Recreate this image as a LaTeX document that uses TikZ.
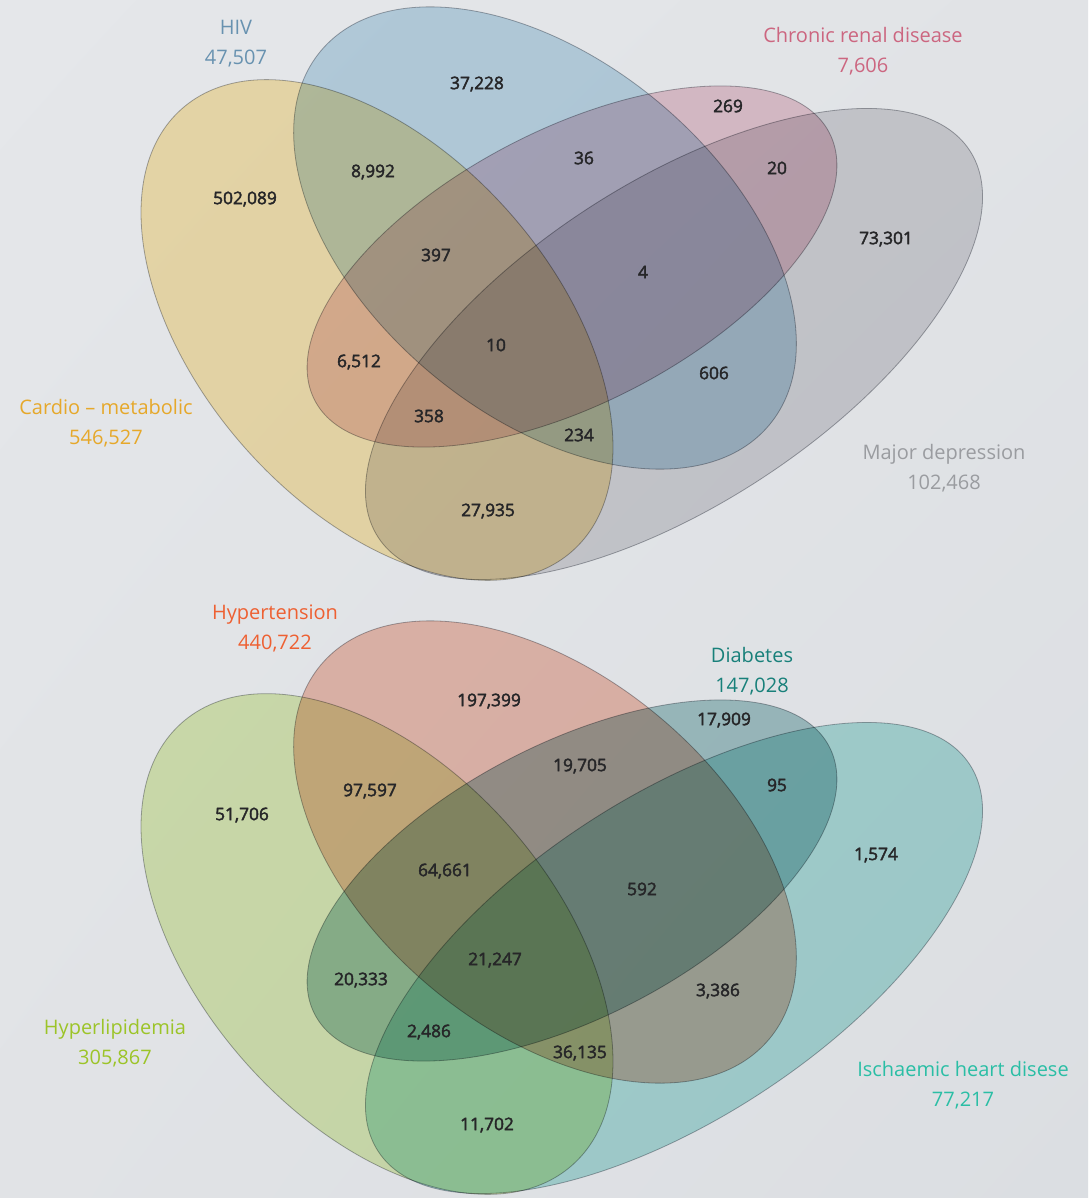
\documentclass[tikz,border=0pt]{standalone}
\usepackage{fontspec}
\setmainfont{Open Sans}
\newfontfamily\numfam[FakeBold=2.4]{Open Sans}
\definecolor{bgtopleft}{RGB}{229,231,234}
\definecolor{bgmid}{RGB}{225,227,230}
\definecolor{bgbottomright}{RGB}{219,222,226}
\definecolor{edgegray}{RGB}{172,174,179}
\definecolor{numdark}{RGB}{38,38,40}
\definecolor{cardiofill}{RGB}{254,234,181}
\definecolor{hivfill}{RGB}{197,222,236}
\definecolor{renalfill}{RGB}{237,205,215}
\definecolor{depressfill}{RGB}{219,218,221}
\definecolor{lipidfill}{RGB}{226,241,186}
\definecolor{tensionfill}{RGB}{245,197,182}
\definecolor{diabfill}{RGB}{172,205,206}
\definecolor{heartfill}{RGB}{181,228,224}
\definecolor{cardiotext}{RGB}{230,168,42}
\definecolor{hivtext}{RGB}{104,146,176}
\definecolor{renaltext}{RGB}{204,102,128}
\definecolor{depresstext}{RGB}{154,156,160}
\definecolor{tensiontext}{RGB}{238,96,50}
\definecolor{diabtext}{RGB}{24,128,122}
\definecolor{lipidtext}{RGB}{156,196,40}
\definecolor{hearttext}{RGB}{42,190,165}
\usetikzlibrary{shadings}

\begin{document}
\begin{tikzpicture}[x=1pt, y=-1pt,
    venn/.style={blend mode=multiply, draw=edgegray, line width=0.8pt},
    setlabel/.style={align=center, font=\fontsize{20}{30}\selectfont},
    count/.style={font=\numfam\fontsize{17.3}{20}\selectfont, text=numdark}]

\shade[upper left=bgtopleft, upper right=bgmid, lower left=bgmid,
       lower right=bgbottomright] (0,0) rectangle (1088,1198);
\useasboundingbox (0,0) rectangle (1088,1198);

% upper diagram
\filldraw[venn, fill=cardiofill, shift={(377,330)}, rotate=-48.6] (0,0) ellipse [x radius=295, y radius=177];
\filldraw[venn, fill=hivfill, shift={(545,238)}, rotate=-39.8] (0,0) ellipse [x radius=292, y radius=177];
\filldraw[venn, fill=renalfill, shift={(572,266.5)}, rotate=27.5] (0,0) ellipse [x radius=290, y radius=136.6];
\filldraw[venn, fill=depressfill, shift={(674,344)}, rotate=33.2] (0,0) ellipse [x radius=353.4, y radius=160.5];

\node[setlabel, text=hivtext] (hivname) at (236,44) {HIV\\47,507};
\node[setlabel, text=renaltext] (renalname) at (863,51) {Chronic renal disease\\7,606};
\node[setlabel, text=cardiotext] (cardioname) at (106,423) {Cardio -- metabolic\\546,527};
\node[setlabel, text=depresstext] (depressname) at (944,468) {Major depression\\102,468};

\node[count] (hivonly) at (477,84) {37,228};
\node[count] (renalonly) at (728,106) {269};
\node[count] (cardiohiv) at (373,172) {8,992};
\node[count] (hivrenal) at (584,158) {36};
\node[count] (renaldep) at (777,168) {20};
\node[count] (cardioonly) at (245,199) {502,089};
\node[count] (deponly) at (886,239) {73,301};
\node[count] (cardiohivrenal) at (436,255) {397};
\node[count] (hivrenaldep) at (643,272) {4};
\node[count] (cardioall) at (496,345) {10};
\node[count] (cardiorenal) at (359,362) {6,512};
\node[count] (hivdep) at (714,373) {606};
\node[count] (cardiorenaldep) at (429,416) {358};
\node[count] (cardiohivdep) at (579,435) {234};
\node[count] (cardiodep) at (488,511) {27,935};

% lower diagram
\filldraw[venn, fill=lipidfill, shift={(377,944)}, rotate=-48.6] (0,0) ellipse [x radius=295, y radius=177];
\filldraw[venn, fill=tensionfill, shift={(545,852)}, rotate=-39.8] (0,0) ellipse [x radius=292, y radius=177];
\filldraw[venn, fill=diabfill, shift={(572,880.5)}, rotate=27.5] (0,0) ellipse [x radius=290, y radius=136.6];
\filldraw[venn, fill=heartfill, shift={(674,958)}, rotate=33.2] (0,0) ellipse [x radius=353.4, y radius=160.5];

\node[setlabel, text=tensiontext] (tensionname) at (275,628) {Hypertension\\440,722};
\node[setlabel, text=diabtext] (diabname) at (752,671) {Diabetes\\147,028};
\node[setlabel, text=lipidtext] (lipidname) at (115,1043) {Hyperlipidemia\\305,867};
\node[setlabel, text=hearttext] (heartname) at (963,1085) {Ischaemic heart disese\\77,217};

\node[count] (tensiononly) at (489,701) {197,399};
\node[count] (diabonly) at (724,720) {17,909};
\node[count] (lipidtension) at (370,791) {97,597};
\node[count] (tensiondiab) at (580,766) {19,705};
\node[count] (diabheart) at (777,785) {95};
\node[count] (lipidonly) at (242,815) {51,706};
\node[count] (heartonly) at (876,855) {1,574};
\node[count] (lipidtensiondiab) at (445,871) {64,661};
\node[count] (tensiondiabheart) at (642,889) {592};
\node[count] (lipidall) at (495,960) {21,247};
\node[count] (lipiddiab) at (361,980) {20,333};
\node[count] (tensionheart) at (718,991) {3,386};
\node[count] (lipiddiabheart) at (429,1032) {2,486};
\node[count] (lipidtensionheart) at (580,1053) {36,135};
\node[count] (lipidheart) at (487,1125) {11,702};
\end{tikzpicture}
\end{document}
